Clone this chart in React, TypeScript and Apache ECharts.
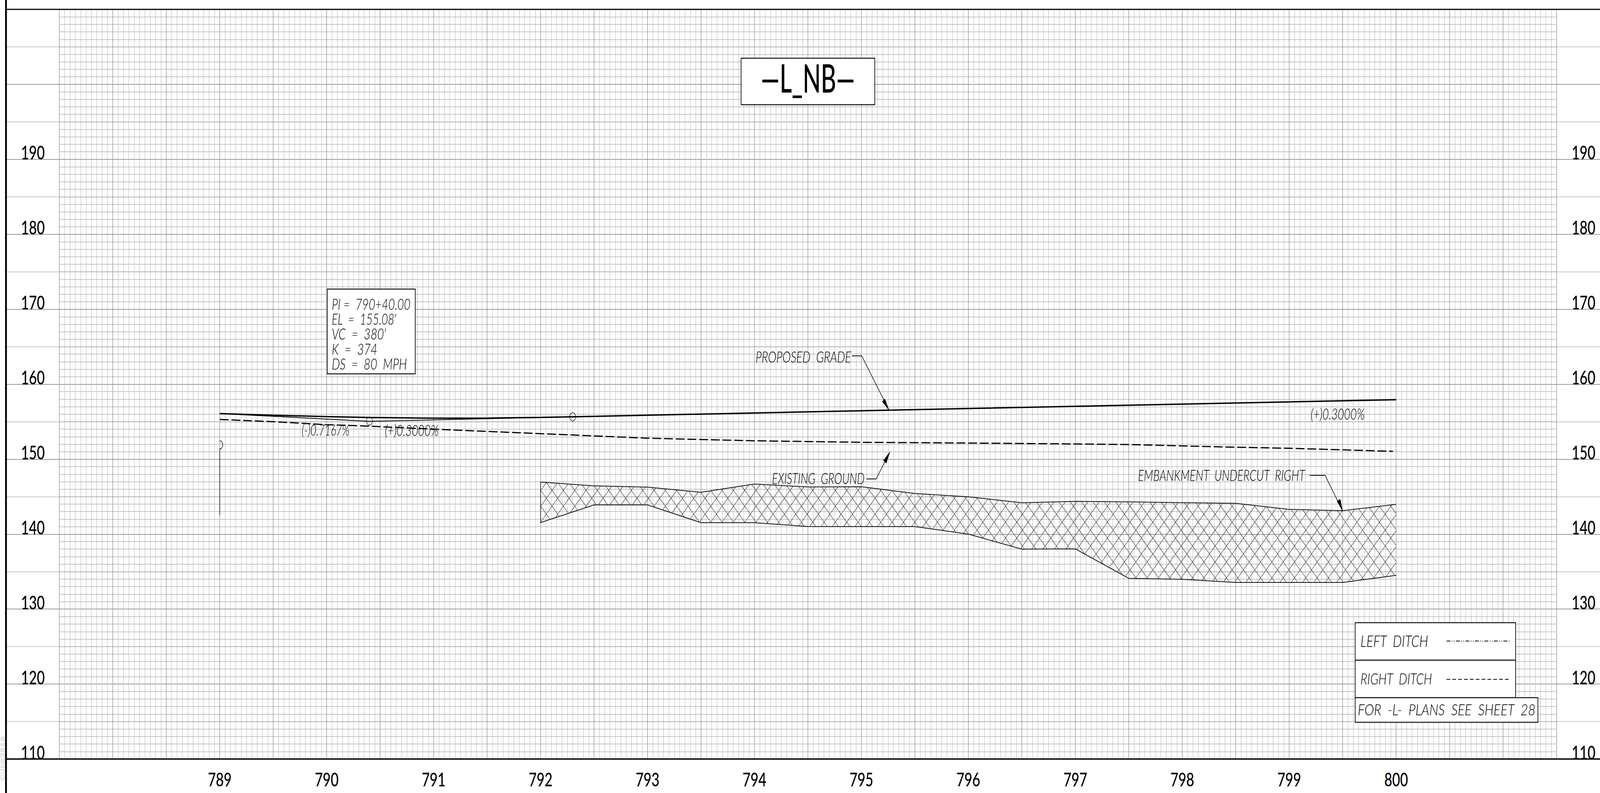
import React, { useEffect, useRef } from "react";
import * as echarts from "echarts";

// ---------- data ----------
const yTickLabels = [110, 120, 130, 140, 150, 160, 170, 180, 190];
const xTickLabels = [789, 790, 791, 792, 793, 794, 795, 796, 797, 798, 799, 800];

const gradeStations = [789, 789.5, 790, 790.4, 790.5, 791, 791.5, 792, 792.3, 795, 800];
const gradeElevations = [156.08, 155.86, 155.67, 155.56, 155.54, 155.46, 155.47, 155.57, 155.65, 156.46, 157.93];

const tangentStations = [789, 790.4, 792.3];
const tangentElevations = [156.08, 155.05, 155.65];

const groundStations = [789, 789.5, 790, 790.4, 791, 792, 793, 794, 795, 796, 796.84, 797.49, 798.48, 799, 799.5, 799.97];
const groundElevations = [155.3, 155.0, 154.6, 154.4, 154.0, 153.4, 152.8, 152.45, 152.25, 152.15, 152.05, 151.95, 151.6, 151.45, 151.24, 151.05];

const markerStations = [790.4, 792.3];
const markerElevations = [155.08, 155.65];

const stubStations = [789, 789.015, 789.025, 789.029, 789.025, 789.015, 789, 789];
const stubElevations = [152.47, 152.38, 152.15, 151.9, 151.65, 151.42, 151.33, 142.5];

const undercutStations = [792, 792.5, 793, 793.5, 794, 794.5, 795, 795.5, 796, 796.5, 797, 797.5, 798, 798.5, 799, 799.5, 800];
const undercutTop = [146.95, 146.44, 146.27, 145.58, 146.69, 146.29, 146.32, 145.42, 144.98, 144.18, 144.37, 144.3, 144.2, 144.1, 143.3, 143.13, 143.97];
const undercutBottom = [141.54, 143.9, 143.9, 141.53, 141.53, 141.02, 141.0, 141.0, 140.0, 138.0, 138.03, 134.1, 133.97, 133.55, 133.55, 133.55, 134.5];

// ---------- drawing styles ----------
// The chart is laid out at the reference's 5745x2030. The sandbox's browser window
// measured 4096x2030 rather than the 5745x2030 it was asked for, so the container is
// squeezed horizontally to whatever width the window really has (see App below);
// in a window that is really 5745 wide the factor is exactly 1.
const W = 5745;
const H = 2030;
const MAJOR = "#9a9a9a";
const MINOR = "#b2b2b2";
const LIGHT = "#c8c8c8";
const INK = "#000000";
const TICK_FONT = "Lato";
const CAD_FONT = "Lato";

const measure = document.createElement("canvas").getContext("2d");

// text, left, right, cap top, cap bottom
const cadTexts: [string, number, number, number, number][] = [
  ["PI =  790+40.00", 1191, 1474, 763, 792],
  ["EL  =  155.08'", 1191, 1424, 802, 831],
  ["VC  =  380'", 1191, 1386, 841, 869],
  ["K  =  374", 1191, 1355, 880, 908],
  ["DS  =  80  MPH", 1191, 1461, 917, 946],
  ["(-)0.7167%", 1083, 1255, 1086, 1115],
  ["(+)0.3000%", 1382, 1575, 1087, 1116],
  ["(+)0.3000%", 4706, 4900, 1046, 1074],
  ["PROPOSED  GRADE", 2713, 3056, 898, 927],
  ["EXISTING  GROUND", 2772, 3104, 1211, 1239],
  ["EMBANKMENT  UNDERCUT  RIGHT", 4086, 4687, 1203, 1231],
  ["LEFT  DITCH", 4885, 5129, 1626, 1656],
  ["RIGHT  DITCH", 4885, 5143, 1723, 1752],
  ["FOR  -L-  PLANS  SEE  SHEET  28", 4875, 5515, 1802, 1831],
];

function fittedText(
  text: string,
  left: number,
  right: number,
  top: number,
  bottom: number,
  family: string,
  weight: number | string,
  italic: boolean
) {
  const fontSize = (bottom - top) / 0.72;
  const fontStyle = italic ? "italic" : "normal";
  let scaleX = 1;
  if (measure) {
    measure.font = `${fontStyle} ${weight} ${fontSize}px ${family}`;
    scaleX = (right - left) / measure.measureText(text).width;
  }
  return {
    type: "text",
    x: left,
    y: (top + bottom) / 2 - 1,
    scaleX,
    z: 60,
    silent: true,
    style: {
      text,
      fontFamily: family,
      fontSize,
      fontStyle,
      fontWeight: weight,
      fill: INK,
      align: "left",
      verticalAlign: "middle",
    },
  };
}

const box = (x: number, y: number, width: number, height: number) => ({
  type: "rect",
  z: 50,
  silent: true,
  shape: { x, y, width, height },
  style: { fill: "#ffffff", stroke: "#111111", lineWidth: 2.5 },
});

const rule = (x1: number, y1: number, x2: number, y2: number, lineWidth: number) => ({
  type: "line",
  z: 70,
  silent: true,
  shape: { x1, y1, x2, y2 },
  style: { stroke: INK, lineWidth },
});

const leader = (points: number[][]) => ({
  type: "polyline",
  z: 55,
  silent: true,
  shape: { points },
  style: { stroke: INK, lineWidth: 1.8, fill: null },
});

const arrowHead = (points: number[][]) => ({
  type: "polygon",
  z: 55,
  silent: true,
  shape: { points },
  style: { fill: INK, stroke: INK, lineWidth: 1 },
});

const sample = (x1: number, x2: number, y: number, lineDash: number[]) => ({
  type: "line",
  z: 60,
  silent: true,
  shape: { x1, y1: y, x2, y2: y },
  style: { stroke: INK, lineWidth: 2.2, lineDash },
});

const graphics = [
  box(2661, 149, 480, 119),
  fittedText("—L_NB—", 2732, 3070, 163, 235, TICK_FONT, 500, false),

  box(1175, 740, 316, 217),

  box(4866, 1594, 576, 96),
  box(4866, 1690, 576, 96),
  box(4866, 1786, 656, 63),
  sample(5194, 5423, 1641, [14, 5, 2.5, 5, 2.5, 5]),
  sample(5194, 5418, 1739, [13, 8]),

  ...cadTexts.map(([t, l, r, a, b]) => fittedText(t, l, r, a, b, CAD_FONT, 300, true)),

  leader([[3059, 911], [3094, 911], [3192, 1050]]),
  arrowHead([[3192, 1050], [3168, 1028], [3177, 1021]]),
  leader([[3111, 1226], [3146, 1226], [3195, 1157]]),
  arrowHead([[3195, 1157], [3172, 1179], [3182, 1186]]),
  leader([[4702, 1217], [4758, 1217], [4820, 1307]]),
  arrowHead([[4820, 1307], [4801, 1283], [4812, 1278]]),

  rule(21.5, 0, 21.5, H, 6.5),
  rule(21, 24, W, 24, 3),
  rule(21, 1943, W, 1943, 3.5),

  {
    type: "text",
    x: 18,
    y: 1885,
    rotation: Math.PI / 2,
    scaleX: 1.2,
    z: 40,
    silent: true,
    style: {
      text: "CUK82519",
      fontFamily: "DejaVu Sans",
      fontSize: 18,
      fill: "#ffffff",
      stroke: "#777777",
      lineWidth: 0.8,
      align: "right",
      verticalAlign: "bottom",
    },
  },
];

// crosshatch pitch and phase of the undercut, in chart pixels
const HATCH_PITCH = 40.7;
const HATCH_PHASE_A = 3237.5;
const HATCH_PHASE_B = 645.5;

function hatchSegments(ring: number[][], sign: number, phase: number) {
  const out: number[][] = [];
  const values = ring.map((p) => p[0] + sign * p[1]);
  const lo = Math.min(...values);
  const hi = Math.max(...values);
  const first = phase + Math.ceil((lo - phase) / HATCH_PITCH) * HATCH_PITCH;
  for (let c = first; c <= hi; c += HATCH_PITCH) {
    const cuts: number[][] = [];
    for (let i = 0; i < ring.length; i++) {
      const a = ring[i];
      const b = ring[(i + 1) % ring.length];
      const va = values[i];
      const vb = values[(i + 1) % ring.length];
      if (va === vb || (va < c && vb < c) || (va >= c && vb >= c)) continue;
      const t = (c - va) / (vb - va);
      cuts.push([a[0] + t * (b[0] - a[0]), a[1] + t * (b[1] - a[1])]);
    }
    cuts.sort((p, q) => p[0] - q[0]);
    for (let i = 0; i + 1 < cuts.length; i += 2) {
      out.push([cuts[i][0], cuts[i][1], cuts[i + 1][0], cuts[i + 1][1]]);
    }
  }
  return out;
}

function renderUndercut(_params: unknown, api: any) {
  const upper = undercutStations.map((s, i) => api.coord([s, undercutTop[i]]));
  const lower = undercutStations.map((s, i) => api.coord([s, undercutBottom[i]]));
  const ring = [...upper, ...lower.slice().reverse()];
  const outline = [...upper.slice().reverse(), ...lower];
  const segments = [
    ...hatchSegments(ring, 1, HATCH_PHASE_A),
    ...hatchSegments(ring, -1, HATCH_PHASE_B),
  ];
  return {
    type: "group",
    children: [
      ...segments.map((s) => ({
        type: "line",
        silent: true,
        shape: { x1: s[0], y1: s[1], x2: s[2], y2: s[3] },
        style: { stroke: "#222222", lineWidth: 1.2 },
      })),
      {
        type: "polyline",
        silent: true,
        shape: { points: outline },
        style: { stroke: "#111111", lineWidth: 2, fill: null },
      },
    ],
  };
}

const pairs = (xs: number[], ys: number[]) => xs.map((x, i) => [x, ys[i]]);

const tickLabelStyle = {
  fontFamily: TICK_FONT,
  fontSize: 49,
  fontWeight: 500,
  color: INK,
  hideOverlap: false,
};

const mainGrid = { left: 213, width: 5376, top: 24, height: 1919 };
const wideGrid = { left: 21, width: W - 21, top: 24, height: 1919 };

const option = {
  animation: false,
  backgroundColor: "#ffffff",
  grid: [mainGrid, wideGrid],
  xAxis: [
    {
      type: "value",
      gridIndex: 0,
      min: 787.5,
      max: 801.5,
      interval: 0.5,
      axisLine: { show: false },
      axisTick: { show: false },
      minorTick: { show: false, splitNumber: 10 },
      splitLine: { show: true, lineStyle: { color: MAJOR, width: 2 } },
      minorSplitLine: { show: true, lineStyle: { color: MINOR, width: 1.3 } },
      axisLabel: {
        ...tickLabelStyle,
        margin: 51,
        verticalAlign: "middle",
        showMinLabel: true,
        showMaxLabel: true,
        formatter: (v: number) => (xTickLabels.includes(v) ? String(v) : ""),
      },
    },
    { type: "value", gridIndex: 1, min: 0, max: 1, show: false },
  ],
  yAxis: [
    {
      type: "value",
      gridIndex: 0,
      position: "left",
      min: 110,
      max: 210,
      interval: 10,
      axisLine: { show: false },
      axisTick: { show: false },
      minorTick: { show: false, splitNumber: 10 },
      splitLine: { show: true, lineStyle: { color: MAJOR, width: 2 } },
      minorSplitLine: { show: true, lineStyle: { color: MINOR, width: 1.3 } },
      axisLabel: {
        ...tickLabelStyle,
        margin: 95,
        align: "center",
        verticalAlign: "bottom",
        lineHeight: 37,
        formatter: (v: number) => (yTickLabels.includes(v) ? String(v) : ""),
      },
    },
    {
      type: "value",
      gridIndex: 0,
      position: "right",
      min: 110,
      max: 210,
      interval: 10,
      axisLine: { show: false },
      axisTick: { show: false },
      splitLine: { show: false },
      axisLabel: {
        ...tickLabelStyle,
        margin: 97,
        align: "center",
        verticalAlign: "bottom",
        lineHeight: 37,
        formatter: (v: number) => (yTickLabels.includes(v) ? String(v) : ""),
      },
    },
    {
      type: "value",
      gridIndex: 1,
      min: 110,
      max: 210,
      interval: 5,
      z: -1,
      axisLine: { show: false },
      axisTick: { show: false },
      axisLabel: { show: false },
      splitLine: { show: true, lineStyle: { color: [MAJOR, LIGHT], width: 2 } },
    },
  ],
  series: [
    {
      name: "Embankment undercut right",
      type: "custom",
      xAxisIndex: 0,
      yAxisIndex: 0,
      z: 3,
      clip: false,
      silent: true,
      renderItem: renderUndercut,
      data: [[undercutStations[0], undercutTop[0]]],
    },
    {
      name: "Tangents",
      type: "line",
      xAxisIndex: 0,
      yAxisIndex: 0,
      z: 4,
      showSymbol: false,
      silent: true,
      lineStyle: { color: INK, width: 2 },
      data: pairs(tangentStations, tangentElevations),
    },
    {
      name: "Existing ground",
      type: "line",
      xAxisIndex: 0,
      yAxisIndex: 0,
      z: 4,
      showSymbol: false,
      silent: true,
      lineStyle: { color: INK, width: 3, type: [32, 10] },
      data: pairs(groundStations, groundElevations),
    },
    {
      name: "Proposed grade",
      type: "line",
      xAxisIndex: 0,
      yAxisIndex: 0,
      z: 5,
      showSymbol: false,
      silent: true,
      lineStyle: { color: INK, width: 3.5 },
      data: pairs(gradeStations, gradeElevations),
    },
    {
      name: "Stub",
      type: "line",
      xAxisIndex: 0,
      yAxisIndex: 0,
      z: 5,
      showSymbol: false,
      silent: true,
      lineStyle: { color: INK, width: 1.8 },
      data: pairs(stubStations, stubElevations),
    },
    {
      name: "Curve points",
      type: "scatter",
      xAxisIndex: 0,
      yAxisIndex: 0,
      z: 6,
      silent: true,
      symbol: "circle",
      symbolSize: 21,
      itemStyle: { color: "rgba(255,255,255,0)", borderColor: INK, borderWidth: 1.8 },
      data: pairs(markerStations, markerElevations),
    },
  ],
  graphic: { elements: graphics },
};

export default function App() {
  const ref = useRef<HTMLDivElement>(null);
  useEffect(() => {
    if (!ref.current) return;
    const chart = echarts.init(ref.current, null, { renderer: "svg", width: W, height: H });
    chart.setOption(option as any);
    return () => chart.dispose();
  }, []);
  const squeeze = Math.min(1, window.innerWidth / W);
  return (
    <div
      ref={ref}
      style={{
        position: "fixed",
        left: 0,
        top: 0,
        width: W,
        height: H,
        background: "#ffffff",
        transformOrigin: "0 0",
        transform: `scaleX(${squeeze})`,
      }}
    />
  );
}
